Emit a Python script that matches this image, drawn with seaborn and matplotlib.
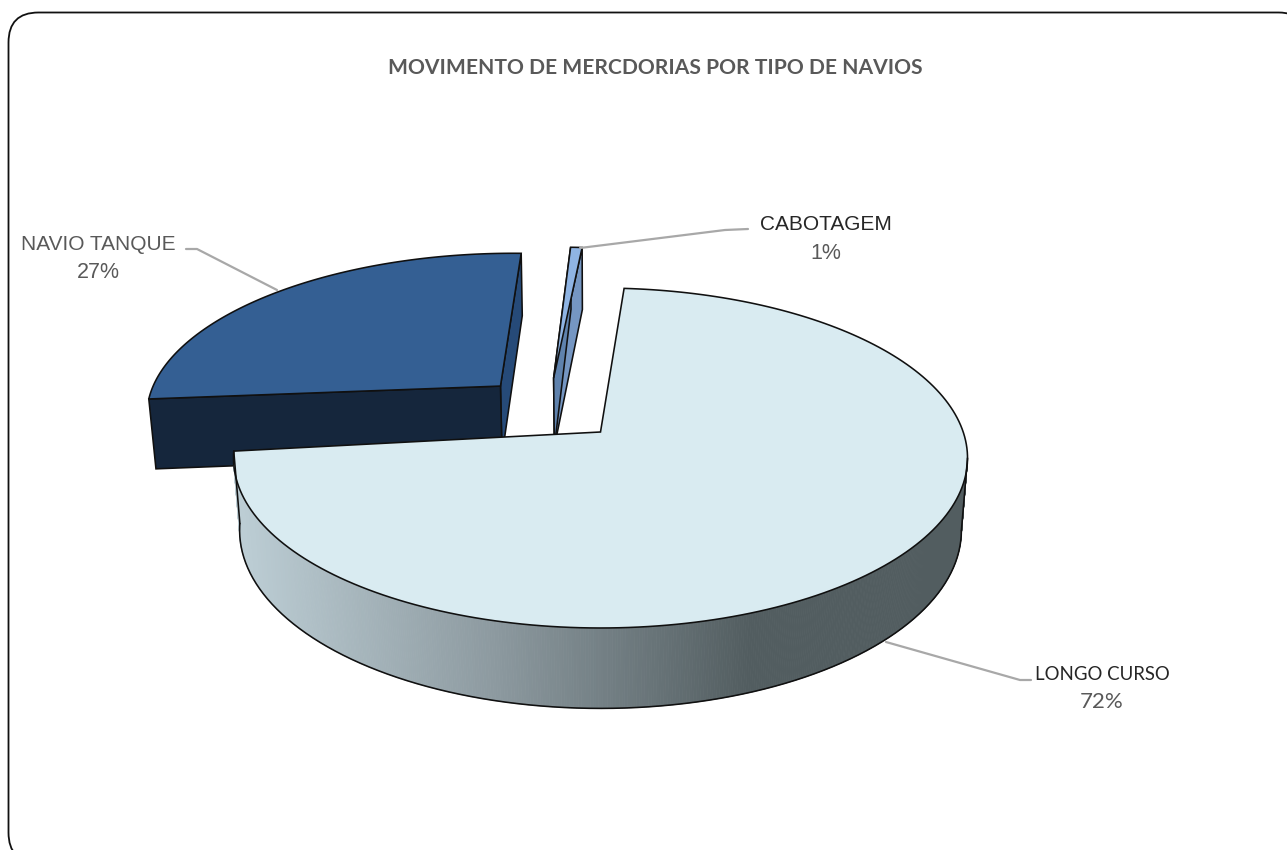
import numpy as np
import matplotlib
matplotlib.use('Agg')
import matplotlib.pyplot as plt
from matplotlib.patches import FancyBboxPatch
import seaborn as sns

# dados
categorias = ['LONGO CURSO', 'NAVIO TANQUE', 'CABOTAGEM']
percentuais = [72, 27, 1]
titulo = 'MOVIMENTO DE MERCDORIAS POR TIPO DE NAVIOS'

# estilo das fatias
cor_topo = {'LONGO CURSO': '#d9ebf1', 'NAVIO TANQUE': '#345f93', 'CABOTAGEM': '#8fb4e3'}
cor_corte1 = {'NAVIO TANQUE': '#15263c', 'CABOTAGEM': '#5f82ad'}
cor_corte2 = {'NAVIO TANQUE': '#264a78', 'CABOTAGEM': '#7596c2'}
deslocamento = {'LONGO CURSO': (0, 0), 'NAVIO TANQUE': (-0.288, 0.289), 'CABOTAGEM': (-0.136, 0.342)}
ajuste_angulo = {'LONGO CURSO': (0, 0), 'NAVIO TANQUE': (1.7, 0.8), 'CABOTAGEM': (1.4, 0)}
ANGULO_INICIAL = 4.3

# projecao do disco para a tela
X0, Y0, B, A, D, P, Q = 600.5, 432, 362.7, 166, 72.7, 0.153, 0.0166
TANGENTE = 98.8
COR_BORDA = '#101010'
LW_BORDA = 1.15


def projeta(u, v, z=0):
    w = 1 + P * v + Q * z
    return X0 + B * u / w, Y0 + (-A * v + D * z) / w


def borda(a1, a2, desloc, z=0, n=200):
    ang = np.radians(np.linspace(a1, a2, n))
    return projeta(desloc[0] + np.sin(ang), desloc[1] + np.cos(ang), z)


def desenha_corte(ax, ang, desloc, cor):
    a = np.radians(ang)
    us = np.array([desloc[0], desloc[0] + np.sin(a)])
    vs = np.array([desloc[1], desloc[1] + np.cos(a)])
    x0, y0 = projeta(us, vs, 0)
    x1, y1 = projeta(us, vs, 1)
    ax.fill([x0[0], x0[1], x1[1], x1[0]], [y0[0], y0[1], y1[1], y1[0]],
            facecolor=cor, edgecolor=COR_BORDA, linewidth=LW_BORDA)


def desenha_topo(ax, a1, a2, desloc, cor):
    x, y = borda(a1, a2, desloc)
    ax0, ay0 = projeta(desloc[0], desloc[1])
    ax.fill(np.r_[ax0, x], np.r_[ay0, y], facecolor=cor, edgecolor=COR_BORDA, linewidth=LW_BORDA)


sns.set_theme(style='white')
plt.rcParams['font.family'] = ['Liberation Sans', 'DejaVu Sans']

fig = plt.figure(figsize=(12.87, 8.5), dpi=100)
ax = fig.add_axes([0, 0, 1, 1])
ax.set_xlim(0, 1287)
ax.set_ylim(850, 0)
ax.axis('off')

# moldura arredondada
ax.add_patch(FancyBboxPatch((8.5, 12.5), 1300, 850, boxstyle='round,pad=0,rounding_size=30',
                            facecolor='white', edgecolor='#111111', linewidth=1.3))

# angulos das fatias
limites = ANGULO_INICIAL + np.r_[0, np.cumsum(percentuais)] * 3.6
angulos = {}
for i, c in enumerate(categorias):
    angulos[c] = (limites[i] + ajuste_angulo[c][0], limites[i + 1] + ajuste_angulo[c][1])

# fatias destacadas primeiro, a maior por cima
for cat in ['NAVIO TANQUE', 'CABOTAGEM']:
    a1, a2 = angulos[cat]
    d = deslocamento[cat]
    desenha_corte(ax, a2, d, cor_corte2[cat])
    desenha_corte(ax, a1, d, cor_corte1[cat])
    desenha_topo(ax, a1, a2, d, cor_topo[cat])

# lateral da fatia maior com degrade
a1, a2 = angulos['LONGO CURSO']
d = deslocamento['LONGO CURSO']
paleta = sns.blend_palette(['#bccdd4', '#8c999f', '#525d60'], 256)
passos = np.linspace(TANGENTE, a2, 500)
for p1, p2 in zip(passos[:-1], passos[1:]):
    xt, yt = borda(p1, p2, d, 0, 3)
    xb, yb = borda(p1, p2, d, 1, 3)
    t = np.clip((750 - xt.mean()) / (750 - 240), 0, 1)
    cor = paleta[int((1 - t) * 255)]
    ax.fill(np.r_[xt, xb[::-1]], np.r_[yt, yb[::-1]], facecolor=cor, edgecolor=cor, linewidth=0.6)
xb, yb = borda(TANGENTE, a2, d, 1)
xt, yt = borda(TANGENTE, a2, d, 0)
ax.plot(xb, yb, color=COR_BORDA, lw=LW_BORDA)
ax.plot([xt[0], xb[0]], [yt[0], yb[0]], color=COR_BORDA, lw=LW_BORDA)
ax.plot([xt[-1], xb[-1]], [yt[-1], yb[-1]], color=COR_BORDA, lw=LW_BORDA)
desenha_topo(ax, a1, a2, d, cor_topo['LONGO CURSO'])

# linhas de chamada
cor_linha = '#a8a8a8'
ax.plot([186, 197, 277], [249, 249, 290], color=cor_linha, lw=1.6)
ax.plot([748, 725, 580], [229, 230, 248], color=cor_linha, lw=1.6)
ax.plot([1031, 1020, 886], [680, 680, 642], color=cor_linha, lw=1.6)

# textos
fonte_calibri = ['Lato', 'DejaVu Sans']
ax.text(655.5, 68, titulo, family=fonte_calibri, fontweight='bold', fontsize=15.1,
        color='#595959', ha='center', va='center')
ax.text(98, 244, categorias[1], fontsize=15, color='#595959', ha='center', va='center')
ax.text(98, 273, f'{percentuais[1]}%', fontsize=15.5, color='#595959', ha='center', va='center')
ax.text(825.5, 224, categorias[2], fontsize=15, color='#262626', ha='center', va='center')
ax.text(825.5, 253, f'{percentuais[2]}%', fontsize=15.5, color='#595959', ha='center', va='center')
ax.text(1102, 674, categorias[0], family=fonte_calibri, fontsize=13.4, color='#262626', ha='center', va='center')
ax.text(1102, 702, f'{percentuais[0]}%', family=fonte_calibri, fontsize=16, color='#595959', ha='center', va='center')

fig.savefig('out.png', dpi=100)
plt.close(fig)
